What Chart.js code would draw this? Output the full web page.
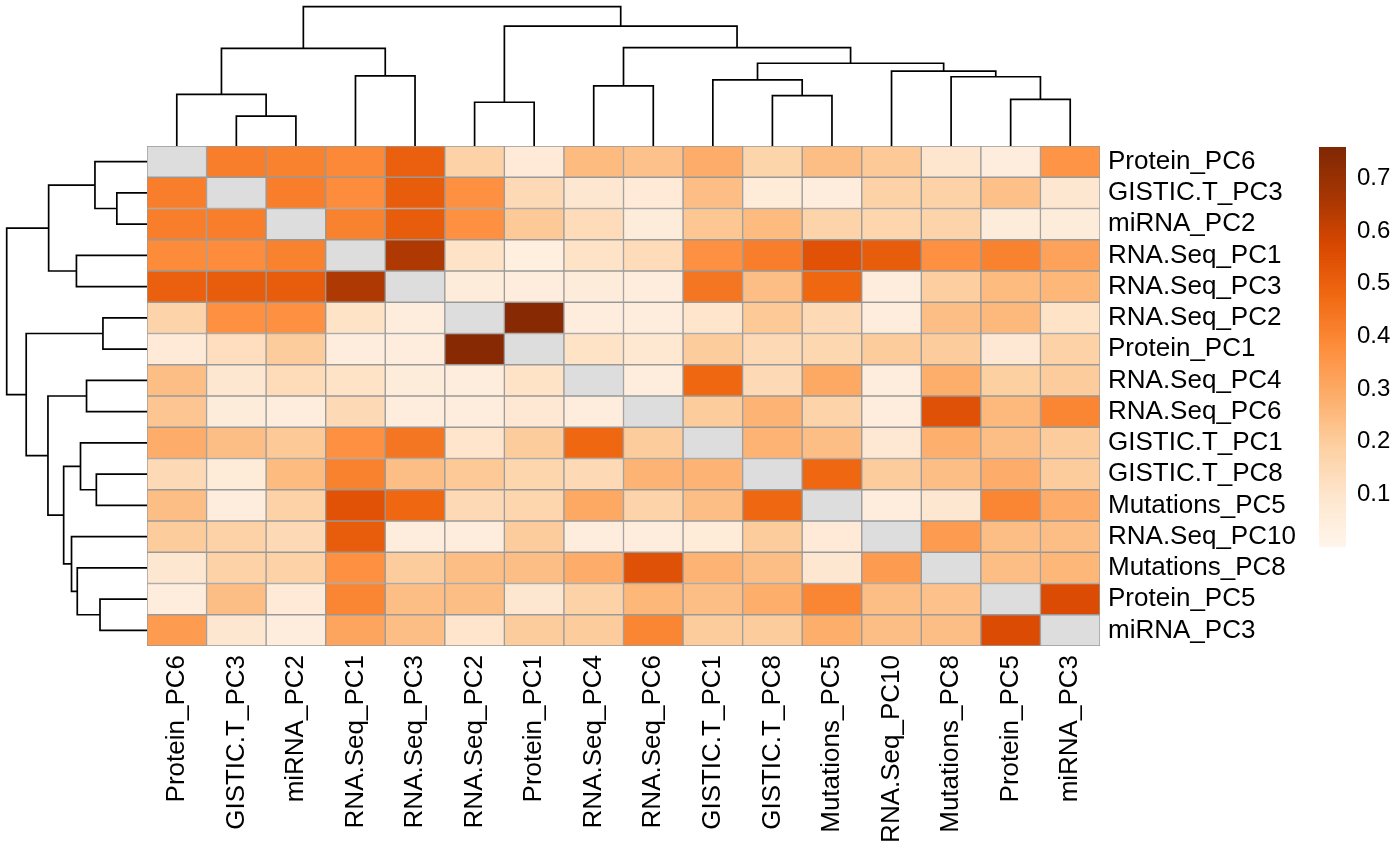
<!DOCTYPE html>
<html>
<head>
<meta charset="utf-8">
<script src="https://cdn.jsdelivr.net/npm/chart.js@4.4.0/dist/chart.umd.min.js"></script>
<style>
html,body{margin:0;padding:0;background:#fff;}
#wrap{position:relative;width:1400px;height:865px;overflow:hidden;background:#fff;}
canvas{position:absolute;display:block;}
</style>
</head>
<body>
<div id="wrap">
  <canvas id="cMain" width="1400" height="865" style="left:0;top:0;width:1400px;height:865px"></canvas>
  <canvas id="cTop" width="953" height="146" style="left:147px;top:0;width:953px;height:146px"></canvas>
  <canvas id="cLeft" width="147" height="500" style="left:0;top:146px;width:147px;height:500px"></canvas>
  <canvas id="cBar" width="81" height="400" style="left:1319px;top:147px;width:81px;height:400px"></canvas>
</div>
<script>
// ---------------- DATA ----------------
const colLabels = ["Protein_PC6","GISTIC.T_PC3","miRNA_PC2","RNA.Seq_PC1","RNA.Seq_PC3","RNA.Seq_PC2","Protein_PC1","RNA.Seq_PC4","RNA.Seq_PC6","GISTIC.T_PC1","GISTIC.T_PC8","Mutations_PC5","RNA.Seq_PC10","Mutations_PC8","Protein_PC5","miRNA_PC3"];
const rowLabels = ["Protein_PC6","GISTIC.T_PC3","miRNA_PC2","RNA.Seq_PC1","RNA.Seq_PC3","RNA.Seq_PC2","Protein_PC1","RNA.Seq_PC4","RNA.Seq_PC6","GISTIC.T_PC1","GISTIC.T_PC8","Mutations_PC5","RNA.Seq_PC10","Mutations_PC8","Protein_PC5","miRNA_PC3"];

// one row per rowLabels entry, one value per colLabels entry (null = NA diagonal)
const cellValues = [
  [null, 0.42, 0.41, 0.39, 0.50, 0.18, 0.07, 0.25, 0.23, 0.29, 0.17, 0.24, 0.21, 0.095, 0.05, 0.36],
  [0.42, null, 0.42, 0.38, 0.51, 0.37, 0.15, 0.09, 0.07, 0.24, 0.06, 0.05, 0.18, 0.18, 0.235, 0.09],
  [0.42, 0.42, null, 0.41, 0.51, 0.37, 0.21, 0.14, 0.055, 0.215, 0.25, 0.175, 0.165, 0.175, 0.055, 0.055],
  [0.385, 0.38, 0.41, null, 0.65, 0.11, 0.04, 0.11, 0.14, 0.37, 0.42, 0.54, 0.51, 0.37, 0.41, 0.32],
  [0.50, 0.51, 0.51, 0.65, null, 0.055, 0.05, 0.055, 0.05, 0.44, 0.24, 0.48, 0.05, 0.195, 0.25, 0.26],
  [0.175, 0.37, 0.37, 0.11, 0.05, null, 0.74, 0.05, 0.05, 0.10, 0.21, 0.15, 0.05, 0.24, 0.255, 0.11],
  [0.07, 0.13, 0.20, 0.05, 0.05, 0.74, null, 0.11, 0.085, 0.20, 0.15, 0.16, 0.20, 0.20, 0.08, 0.18],
  [0.24, 0.09, 0.14, 0.11, 0.055, 0.05, 0.11, null, 0.05, 0.48, 0.15, 0.30, 0.05, 0.285, 0.19, 0.20],
  [0.22, 0.055, 0.05, 0.15, 0.05, 0.05, 0.08, 0.05, null, 0.20, 0.27, 0.175, 0.05, 0.545, 0.255, 0.40],
  [0.29, 0.24, 0.21, 0.37, 0.44, 0.10, 0.20, 0.48, 0.20, null, 0.27, 0.24, 0.08, 0.28, 0.24, 0.20],
  [0.15, 0.06, 0.25, 0.41, 0.24, 0.21, 0.165, 0.15, 0.27, 0.27, null, 0.48, 0.20, 0.24, 0.29, 0.20],
  [0.24, 0.05, 0.18, 0.54, 0.48, 0.15, 0.165, 0.30, 0.175, 0.24, 0.48, null, 0.05, 0.09, 0.40, 0.29],
  [0.20, 0.18, 0.15, 0.51, 0.05, 0.05, 0.20, 0.05, 0.05, 0.06, 0.20, 0.07, null, 0.34, 0.24, 0.24],
  [0.09, 0.18, 0.18, 0.37, 0.20, 0.24, 0.24, 0.29, 0.545, 0.27, 0.24, 0.09, 0.34, null, 0.24, 0.26],
  [0.05, 0.24, 0.07, 0.40, 0.24, 0.24, 0.09, 0.18, 0.26, 0.24, 0.285, 0.40, 0.24, 0.23, null, 0.56],
  [0.34, 0.09, 0.05, 0.31, 0.24, 0.10, 0.20, 0.20, 0.40, 0.20, 0.20, 0.285, 0.24, 0.24, 0.56, null]
];

// hclust-style merges (same tree for rows and columns, leaves in display order):
// negative = leaf number (1-based), positive = earlier merge number (1-based)
const mergePairs = [
  [-2, -3], [-6, -7], [-15, -16], [-11, -12], [-1, 1],
  [-8, -9], [-10, 4], [-14, 3], [-4, -5], [-13, 8],
  [7, 10], [5, 9], [6, 11], [2, 13], [12, 14]
];
const mergeHeights = [0.215, 0.314, 0.335, 0.361, 0.371, 0.431, 0.474, 0.497, 0.503, 0.538, 0.594, 0.701, 0.706, 0.861, 1.0];

const legendTicks = [0.1, 0.2, 0.3, 0.4, 0.5, 0.6, 0.7];
const legendMin = 0;
const legendMax = 0.76;

// ---------------- STYLE ----------------
const FONT = '"Liberation Sans", Arial, Helvetica, sans-serif';
Chart.defaults.font.family = FONT;
const palette = ["#FFF5EB","#FEE6CE","#FDD0A2","#FDAE6B","#FD8D3C","#F16913","#D94801","#A63603","#7F2704"];
const NA_COLOR = "#DDDDDD";
const BORDER = "#999999";

function hex2rgb(h){return [parseInt(h.slice(1,3),16),parseInt(h.slice(3,5),16),parseInt(h.slice(5,7),16)];}
const palRGB = palette.map(hex2rgb);
function colorFor(v){
  if (v === null || v === undefined) return NA_COLOR;
  let t = (v - legendMin) / (legendMax - legendMin);
  t = Math.max(0, Math.min(1, t));
  const pos = t * (palRGB.length - 1);
  const i = Math.min(palRGB.length - 2, Math.floor(pos));
  const f = pos - i;
  const a = palRGB[i], b = palRGB[i+1];
  const c = a.map((av, k) => Math.round(av + (b[k]-av)*f));
  return `rgb(${c[0]},${c[1]},${c[2]})`;
}

// ---------------- HEATMAP ----------------
new Chart(document.getElementById('cMain'), {
  type: 'bar',
  data: {
    labels: colLabels,
    datasets: rowLabels.map((r, i) => ({
      label: r,
      data: colLabels.map(() => [i, i + 1]),
      backgroundColor: cellValues[i].map(colorFor),
      borderColor: BORDER,
      borderWidth: 1,
      borderSkipped: false,
      grouped: false,
      categoryPercentage: 1,
      barPercentage: 1
    }))
  },
  options: {
    responsive: false,
    animation: false,
    events: [],
    layout: { padding: { left: 147, top: 146, right: 0, bottom: 0 } },
    plugins: { legend: { display: false }, tooltip: { enabled: false } },
    scales: {
      x: {
        type: 'category',
        position: 'bottom',
        grid: { display: false, drawTicks: false },
        border: { display: false },
        ticks: { minRotation: 90, maxRotation: 90, autoSkip: false, padding: 9, color: '#000', font: { family: FONT, size: 26 } },
        afterFit(s) { s.height = 219; s.paddingLeft = 0; s.paddingRight = 0; }
      },
      y: {
        type: 'linear',
        position: 'right',
        reverse: true,
        min: 0,
        max: 16,
        grid: { display: false, drawTicks: false },
        border: { display: false },
        afterBuildTicks(s) { s.ticks = rowLabels.map((_, i) => ({ value: i + 0.5 })); },
        ticks: { autoSkip: false, padding: 8, color: '#000', font: { family: FONT, size: 26 },
                 callback: (v) => rowLabels[Math.floor(v)] },
        afterFit(s) { s.width = 300; s.paddingTop = 0; s.paddingBottom = 0; }
      }
    }
  }
});

// ---------------- DENDROGRAMS ----------------
function dendroSegments(swap) {
  const nodeX = [], nodeH = [];
  const pos = (id) => id < 0 ? (-id - 1) + 0.5 : nodeX[id - 1];
  const hgt = (id) => id < 0 ? 0 : nodeH[id - 1];
  const sets = [];
  mergePairs.forEach((p, k) => {
    const h = mergeHeights[k];
    const xl = pos(p[0]), xr = pos(p[1]);
    const hl = hgt(p[0]), hr = hgt(p[1]);
    nodeX.push((xl + xr) / 2); nodeH.push(h);
    const pts = [[xl, hl], [xl, h], [xr, h], [xr, hr]];
    sets.push({
      data: pts.map(q => swap ? { x: q[1], y: q[0] } : { x: q[0], y: q[1] }),
      showLine: true, borderColor: '#000', borderWidth: 1.7, pointRadius: 0,
      fill: false, tension: 0, borderJoinStyle: 'miter', borderCapStyle: 'butt', clip: 4
    });
  });
  return sets;
}
const dendroMax = 146 / (146 - 6.7);

new Chart(document.getElementById('cTop'), {
  type: 'scatter',
  data: { datasets: dendroSegments(false) },
  options: {
    responsive: false, animation: false, events: [],
    layout: { padding: 0 },
    plugins: { legend: { display: false }, tooltip: { enabled: false } },
    scales: {
      x: { type: 'linear', min: 0, max: 16, display: false },
      y: { type: 'linear', min: 0, max: dendroMax, display: false }
    }
  }
});

new Chart(document.getElementById('cLeft'), {
  type: 'scatter',
  data: { datasets: dendroSegments(true) },
  options: {
    responsive: false, animation: false, events: [],
    layout: { padding: 0 },
    plugins: { legend: { display: false }, tooltip: { enabled: false } },
    scales: {
      x: { type: 'linear', min: 0, max: 147 / (147 - 6.7), reverse: true, display: false },
      y: { type: 'linear', min: 0, max: 16, reverse: true, display: false }
    }
  }
});

// ---------------- COLOUR LEGEND ----------------
const legendSteps = 152;
const stepSize = (legendMax - legendMin) / legendSteps;
const legendSets = [];
for (let k = 0; k < legendSteps; k++) {
  const mid = legendMin + (k + 0.5) * stepSize;
  legendSets.push({
    data: [[legendMin, legendMin + (k + 1) * stepSize]],
    backgroundColor: colorFor(mid),
    borderWidth: 0,
    grouped: false,
    categoryPercentage: 1,
    barPercentage: 1
  });
}
new Chart(document.getElementById('cBar'), {
  type: 'bar',
  data: { labels: [''], datasets: legendSets },
  options: {
    responsive: false, animation: false, events: [],
    layout: { padding: 0 },
    plugins: { legend: { display: false }, tooltip: { enabled: false } },
    scales: {
      x: { display: false },
      y: {
        type: 'linear', position: 'right', min: legendMin, max: legendMax,
        grid: { display: false, drawTicks: false }, border: { display: false },
        afterBuildTicks(s) { s.ticks = legendTicks.map(v => ({ value: v })); },
        ticks: { padding: 11, color: '#000', font: { family: FONT, size: 24 }, callback: (v) => v.toFixed(1) },
        afterFit(s) { s.width = 54; s.paddingTop = 0; s.paddingBottom = 0; }
      }
    }
  }
});
</script>
</body>
</html>
